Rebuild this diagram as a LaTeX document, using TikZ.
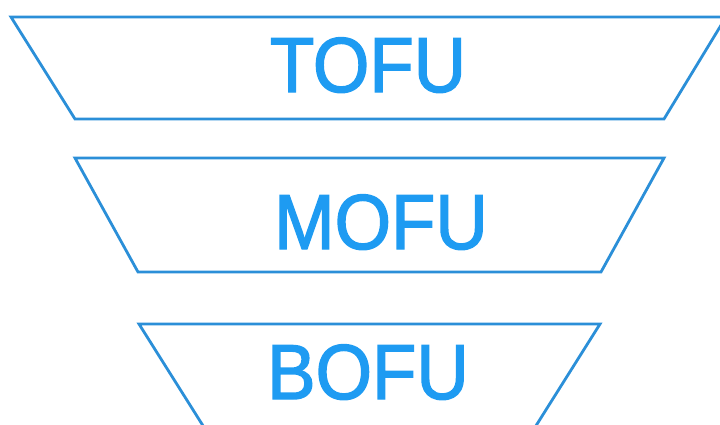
\documentclass[tikz,border=0pt]{standalone}
\usepackage{fontspec}
\setmainfont{Liberation Sans}
\newfontfamily\stagefont[FakeStretch=0.93,FakeBold=1.8]{Liberation Sans}
\usepackage{xcolor}
\definecolor{funnelline}{HTML}{2B8FD8}
\definecolor{funneltext}{HTML}{1E9BF2}
\usepackage{tikz}
\usetikzlibrary{positioning}
\tikzset{
    stage/.style={
        draw=funnelline,
        line width=2.8pt,
        line join=miter,
    },
    stagelabel/.style={
        text=funneltext,
        font=\stagefont\fontsize{78}{78}\selectfont,
        inner sep=0pt,
        anchor=base,
    },
}

\begin{document}
\begin{tikzpicture}[x=1pt,y=-1pt]
        \useasboundingbox (0,0) rectangle (720,424);
        \clip (0,0) rectangle (720,424);

        % funnel stages
        \draw[stage] (11,17) -- (726,17) -- (664,119) -- (75,119) -- cycle;
        \draw[stage] (75,158) -- (664,158) -- (601,272) -- (138,272) -- cycle;
        \draw[stage] (139,324) -- (600,324) -- (527,440) -- (212,440) -- cycle;

        \node[stagelabel] (tofu) at (368,92) {TOFU};
        \node[stagelabel] (mofu) at (381,249) {MOFU};
        \node[stagelabel] (bofu) at (368,399) {BOFU};
    \end{tikzpicture}
\end{document}
